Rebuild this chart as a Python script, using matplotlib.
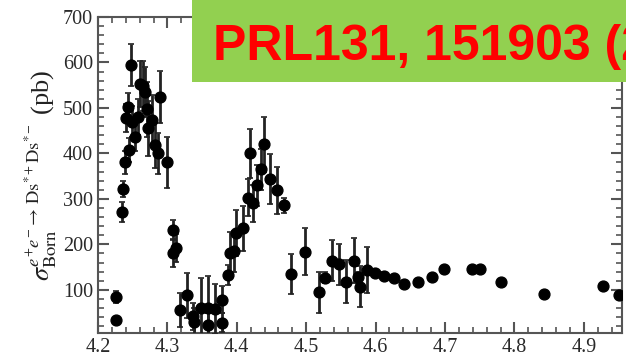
#!/usr/bin/env python3

import numpy as np
import matplotlib
matplotlib.use('Agg')
import matplotlib.pyplot as plt
from matplotlib.ticker import MultipleLocator
from matplotlib.patches import Rectangle

# centre-of-mass energy (GeV), Born cross section (pb), error (pb)
energy = [4.2263, 4.2263, 4.2340, 4.2360, 4.2390, 4.2440, 4.2410, 4.2435,
          4.2480, 4.2485, 4.2530, 4.2580, 4.2600, 4.2650, 4.2680, 4.2700,
          4.2720, 4.2780, 4.2820, 4.2870, 4.2890, 4.2990, 4.3080, 4.3080,
          4.3130, 4.3180, 4.3285, 4.3370, 4.3390, 4.3490, 4.3590, 4.3590,
          4.3680, 4.3780, 4.3780, 4.3875, 4.3900, 4.3960, 4.3985, 4.4090,
          4.4160, 4.4190, 4.4235, 4.4290, 4.4355, 4.4390, 4.4485, 4.4585,
          4.4675, 4.4787, 4.4980, 4.5180, 4.5276, 4.5377, 4.5470, 4.5580,
          4.5683, 4.5750, 4.5770, 4.5875, 4.5995, 4.6115, 4.6270, 4.6407,
          4.6610, 4.6810, 4.6990, 4.7390, 4.7507, 4.7810, 4.8430, 4.9280,
          4.9510]
xsec = [34, 85, 272, 322, 380, 408, 478, 502,
        594, 470, 435, 480, 553, 548, 535, 497,
        455, 473, 418, 400, 524, 380, 231, 181,
        192, 56, 88, 42, 30, 60, 60, 23,
        58, 78, 28, 133, 182, 185, 225, 235,
        303, 400, 290, 330, 365, 420, 343, 319,
        286, 134, 184, 95, 127, 164, 156, 118,
        164, 128, 107, 144, 138, 131, 125, 113,
        118, 129, 145, 145, 145, 117, 91, 108,
        89]
xsec_err = [0, 13, 22, 18, 25, 26, 30, 30,
            46, 35, 30, 40, 50, 55, 55, 60,
            60, 55, 50, 45, 58, 55, 22, 30,
            30, 38, 50, 30, 30, 66, 70, 25,
            55, 30, 20, 22, 45, 45, 50, 50,
            40, 54, 40, 45, 45, 60, 55, 52,
            16, 44, 52, 45, 12, 45, 45, 47,
            50, 12, 45, 50, 8, 8, 6, 6,
            6, 6, 6, 6, 6, 5, 5, 5,
            5]

banner = "PRL131, 151903 (2023)"


def main():
    plt.rcParams['font.family'] = ['Liberation Serif', 'DejaVu Serif']
    plt.rcParams['mathtext.fontset'] = 'stix'

    fig = plt.figure(figsize=(6.26, 3.59), dpi=100)
    ax = fig.add_axes([98/626, 26/359, 524/626, 316/359])

    ax.errorbar(energy, xsec, yerr=xsec_err, fmt='o', color='black',
                ecolor='#222222', elinewidth=2, capsize=2.5, capthick=1.2,
                markersize=7.8, zorder=3)

    ax.set_xlim(4.2, 4.955)
    ax.set_ylim(5, 700)
    ax.xaxis.set_major_locator(MultipleLocator(0.1))
    ax.xaxis.set_minor_locator(MultipleLocator(0.02))
    ax.yaxis.set_major_locator(MultipleLocator(100))
    ax.yaxis.set_minor_locator(MultipleLocator(20))
    ax.set_yticks([100, 200, 300, 400, 500, 600, 700])
    ax.tick_params(which='both', direction='in', top=True, right=True,
                   color='#555555', labelsize=14.5, labelcolor='#2a2a2a')
    ax.tick_params(which='major', length=8, width=1.5)
    ax.tick_params(which='minor', length=4, width=1.2)
    for sp in ax.spines.values():
        sp.set_color('#555555')
        sp.set_linewidth(1.5)

    ax.set_ylabel(r'$\sigma^{e^{+}e^{-}\rightarrow\,\mathrm{Ds}^{*+}\mathrm{Ds}^{*-}}_{\mathrm{Born}}$ (pb)',
                  fontsize=19, color='#222222', labelpad=2)

    # green banner at the top right (text runs past the edge as in the source)
    fig.patches.append(Rectangle((192/626, 277/359), 434/626, 82/359,
                                 transform=fig.transFigure,
                                 facecolor='#92D050', edgecolor='none',
                                 zorder=5))
    fig.text(213/626, 299/359, banner, color='#FF0000', fontsize=36,
             fontweight='bold', family='Liberation Sans', zorder=6)

    plt.savefig('out.png', dpi=100)


if __name__ == '__main__':
    main()
